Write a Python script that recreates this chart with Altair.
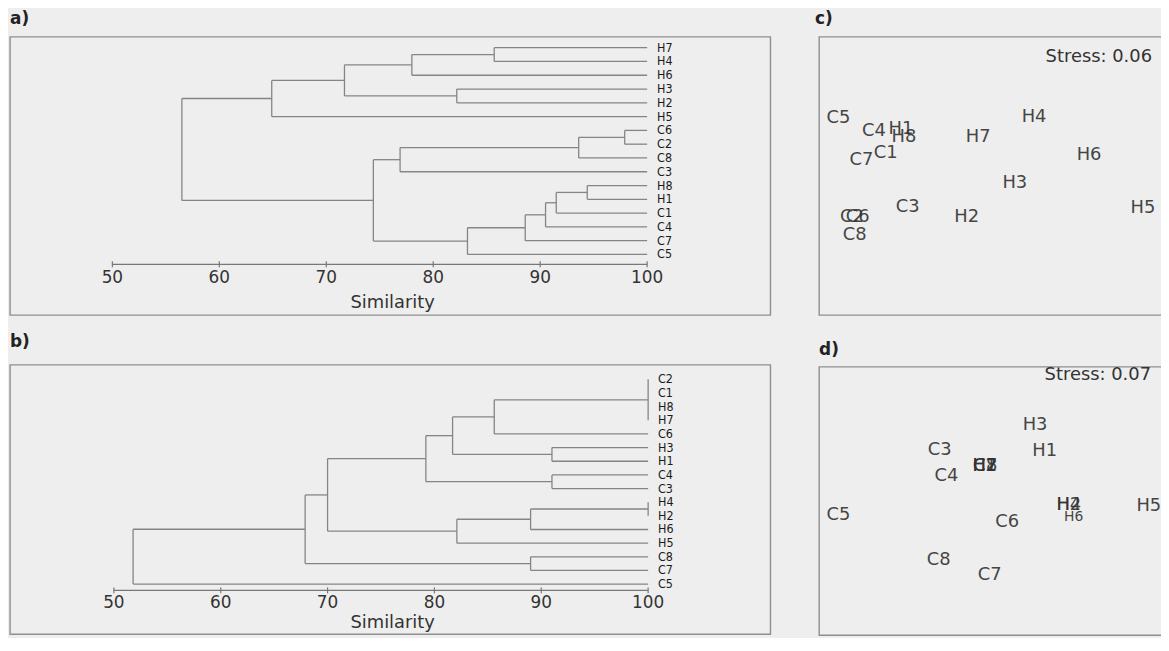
import altair as alt
import pandas as pd

# ---------------- data ----------------
TICKS = [50, 60, 70, 80, 90, 100]

# panel a) dendrogram: leaf order (top to bottom) and merges (children, similarity)
A_LEAVES = ["H7", "H4", "H6", "H3", "H2", "H5", "C6", "C2", "C8", "C3",
            "H8", "H1", "C1", "C4", "C7", "C5"]
A_MERGES = [
    (["H7", "H4"], 85.7),    # m0
    (["m0", "H6"], 78.0),    # m1
    (["H3", "H2"], 82.2),    # m2
    (["m1", "m2"], 71.7),    # m3
    (["m3", "H5"], 64.9),    # m4
    (["C6", "C2"], 97.9),    # m5
    (["m5", "C8"], 93.6),    # m6
    (["m6", "C3"], 76.9),    # m7
    (["H8", "H1"], 94.4),    # m8
    (["m8", "C1"], 91.5),    # m9
    (["m9", "C4"], 90.5),    # m10
    (["m10", "C7"], 88.6),   # m11
    (["m11", "C5"], 83.2),   # m12
    (["m7", "m12"], 74.4),   # m13
    (["m4", "m13"], 56.5),   # m14
]

# panel b) dendrogram
B_LEAVES = ["C2", "C1", "H8", "H7", "C6", "H3", "H1", "C4", "C3",
            "H4", "H2", "H6", "H5", "C8", "C7", "C5"]
B_MERGES = [
    (["C2", "C1", "H8", "H7"], 100.0),  # m0
    (["m0", "C6"], 85.6),               # m1
    (["H3", "H1"], 91.0),               # m2
    (["m1", "m2"], 81.7),               # m3
    (["C4", "C3"], 91.0),               # m4
    (["m3", "m4"], 79.2),               # m5
    (["H4", "H2"], 100.0),              # m6
    (["m6", "H6"], 89.0),               # m7
    (["m7", "H5"], 82.1),               # m8
    (["m5", "m8"], 70.0),               # m9
    (["C8", "C7"], 89.0),               # m10
    (["m9", "m10"], 67.9),              # m11
    (["m11", "C5"], 51.8),              # m12
]

# panel c) MDS ordination
C_LABELS = ["C5", "C4", "H1", "H8", "C1", "C7", "H7", "H4", "H6", "H3",
            "H5", "C3", "H2", "C2", "C6", "C8"]
C_X = [-1.62, -1.25, -0.97, -0.94, -1.13, -1.38, -0.17, 0.41, 0.98, 0.21,
       1.54, -0.90, -0.29, -1.48, -1.42, -1.45]
C_Y = [0.57, 0.44, 0.46, 0.38, 0.22, 0.15, 0.38, 0.58, 0.20, -0.08,
       -0.33, -0.32, -0.42, -0.42, -0.42, -0.60]
C_STRESS = 0.06

# panel d) MDS ordination
D_LABELS = ["H3", "C3", "H1", "C1", "C2", "H7", "H8", "C4", "H2", "H4",
            "H6", "H5", "C5", "C6", "C8", "C7"]
D_X = [0.42, -0.57, 0.52, -0.10, -0.10, -0.10, -0.10, -0.50, 0.77, 0.77,
       0.82, 1.60, -1.62, 0.13, -0.58, -0.05]
D_Y = [0.80, 0.53, 0.52, 0.37, 0.37, 0.37, 0.37, 0.26, -0.04, -0.04,
       -0.17, -0.05, -0.15, -0.22, -0.62, -0.78]
D_STRESS = 0.07

# ---------------- style ----------------
BG = "#eeeeee"
LINE = "#858585"
TXT = "#333333"
FRAME = "#8f8f8f"
FONT = "DejaVu Sans"
NARROW = "Liberation Sans Narrow, DejaVu Sans Condensed, Arial Narrow, sans-serif"

LEFT_W = 765
RIGHT_W = 354
MDS_XDOM = [-1.82, -1.82 + RIGHT_W / 97.0]


def dendro_segments(leaves, merges):
    pos = {name: (100.0, float(i)) for i, name in enumerate(leaves)}
    segs = []
    for k, (children, h) in enumerate(merges):
        ys = [pos[c][1] for c in children]
        for c in children:
            cx, cy = pos[c]
            segs.append({"x": cx, "x2": h, "y": cy, "y2": cy})
        segs.append({"x": h, "x2": h, "y": min(ys), "y2": max(ys)})
        pos[f"m{k}"] = (h, (min(ys) + max(ys)) / 2.0)
    return pd.DataFrame(segs)


def dendro_panel(leaves, merges, xdom, ydom, height, title, toff,
                 ax_y, lab_y, tit_y):
    xs = alt.Scale(domain=xdom, nice=False, zero=False)
    ys = alt.Scale(domain=ydom, nice=False, zero=False, reverse=True)
    segs = dendro_segments(leaves, merges)
    lines = alt.Chart(segs).mark_rule(color=LINE, strokeWidth=1.3).encode(
        x=alt.X("x:Q", scale=xs, axis=None), x2="x2:Q",
        y=alt.Y("y:Q", scale=ys, axis=None), y2="y2:Q")
    leaf_df = pd.DataFrame({"leaf": leaves, "sim": [max(TICKS)] * len(leaves),
                            "i": list(range(len(leaves)))})
    labels = alt.Chart(leaf_df).mark_text(
        align="left", baseline="middle", dx=10, font=NARROW, fontSize=12.5,
        color="#1a1a1a").encode(
        x=alt.X("sim:Q", scale=xs, axis=None),
        y=alt.Y("i:Q", scale=ys, axis=None), text="leaf:N")
    tick_df = pd.DataFrame({"v": TICKS})
    ax_df = pd.DataFrame({"a": [min(TICKS)], "b": [max(TICKS)]})
    axline = alt.Chart(ax_df).mark_rule(color="#777777", strokeWidth=1.2).encode(
        x=alt.X("a:Q", scale=xs, axis=None), x2="b:Q", y=alt.value(ax_y))
    ticks = alt.Chart(tick_df).mark_rule(color="#777777", strokeWidth=1.2).encode(
        x=alt.X("v:Q", scale=xs, axis=None), y=alt.value(ax_y - 3),
        y2=alt.value(ax_y + 3))
    tlabels = alt.Chart(tick_df).mark_text(
        font=FONT, fontSize=17, color=TXT, baseline="middle").encode(
        x=alt.X("v:Q", scale=xs, axis=None), y=alt.value(lab_y),
        text=alt.Text("v:Q", format="d"))
    xtitle = alt.Chart(pd.DataFrame({"t": ["Similarity"]})).mark_text(
        font=FONT, fontSize=18, color=TXT, baseline="middle").encode(
        x=alt.value(385), y=alt.value(tit_y), text="t:N")
    return alt.layer(lines, labels, axline, ticks, tlabels, xtitle).properties(
        width=LEFT_W, height=height,
        title=alt.TitleParams(title, anchor="start", fontSize=17, font=FONT,
                              fontWeight="bold", color="#222222", offset=toff))


def mds_panel(labels, xv, yv, stress, ydom, height, title, toff, tdx,
              sx, sy, small=None):
    df = pd.DataFrame({"lab": labels, "x": xv, "y": yv})
    xs = alt.Scale(domain=MDS_XDOM, nice=False, zero=False)
    ys = alt.Scale(domain=ydom, nice=False, zero=False)
    size = alt.value(18)
    if small is not None:
        size = alt.condition(alt.datum.lab == small, alt.value(14), alt.value(18))
    pts = alt.Chart(df).mark_text(font=FONT, color=TXT, baseline="middle",
                                  opacity=0.9).encode(
        x=alt.X("x:Q", scale=xs, axis=None),
        y=alt.Y("y:Q", scale=ys, axis=None), text="lab:N", size=size)
    st = alt.Chart(pd.DataFrame({"t": [f"Stress: {stress:.2f}"]})).mark_text(
        font=FONT, fontSize=18, color=TXT, align="right", baseline="middle").encode(
        x=alt.value(sx), y=alt.value(sy), text="t:N")
    return alt.layer(pts, st).properties(
        width=RIGHT_W, height=height,
        title=alt.TitleParams(title, anchor="start", fontSize=17, font=FONT,
                              fontWeight="bold", color="#222222", offset=toff,
                              dx=tdx))


a = dendro_panel(A_LEAVES, A_MERGES, [40.428, 111.52], [-0.793, 19.395], 280,
                 "a)", 9, 229, 243, 268)
b = dendro_panel(B_LEAVES, B_MERGES, [40.279, 111.44], [-1.071, 18.667], 271,
                 "b)", 14, 227, 240, 260)
c = mds_panel(C_LABELS, C_X, C_Y, C_STRESS, [-1.41, 1.39], 280,
              "c)", 9, -4, 335, 20)
d = mds_panel(D_LABELS, D_X, D_Y, D_STRESS, [-1.41, 1.41], 270,
              "d)", 7, 0, 334, 8, small="H6")

left = alt.vconcat(a, b, spacing=16)
right = alt.vconcat(c, d, spacing=24)
chart = alt.hconcat(left, right, spacing=43).properties(
    padding={"left": 1, "top": -1, "right": -11, "bottom": 0},
    background=BG,
).configure_view(stroke=FRAME, strokeWidth=1.4)

chart.save("out.html", embed_options={"renderer": "svg", "actions": False})
